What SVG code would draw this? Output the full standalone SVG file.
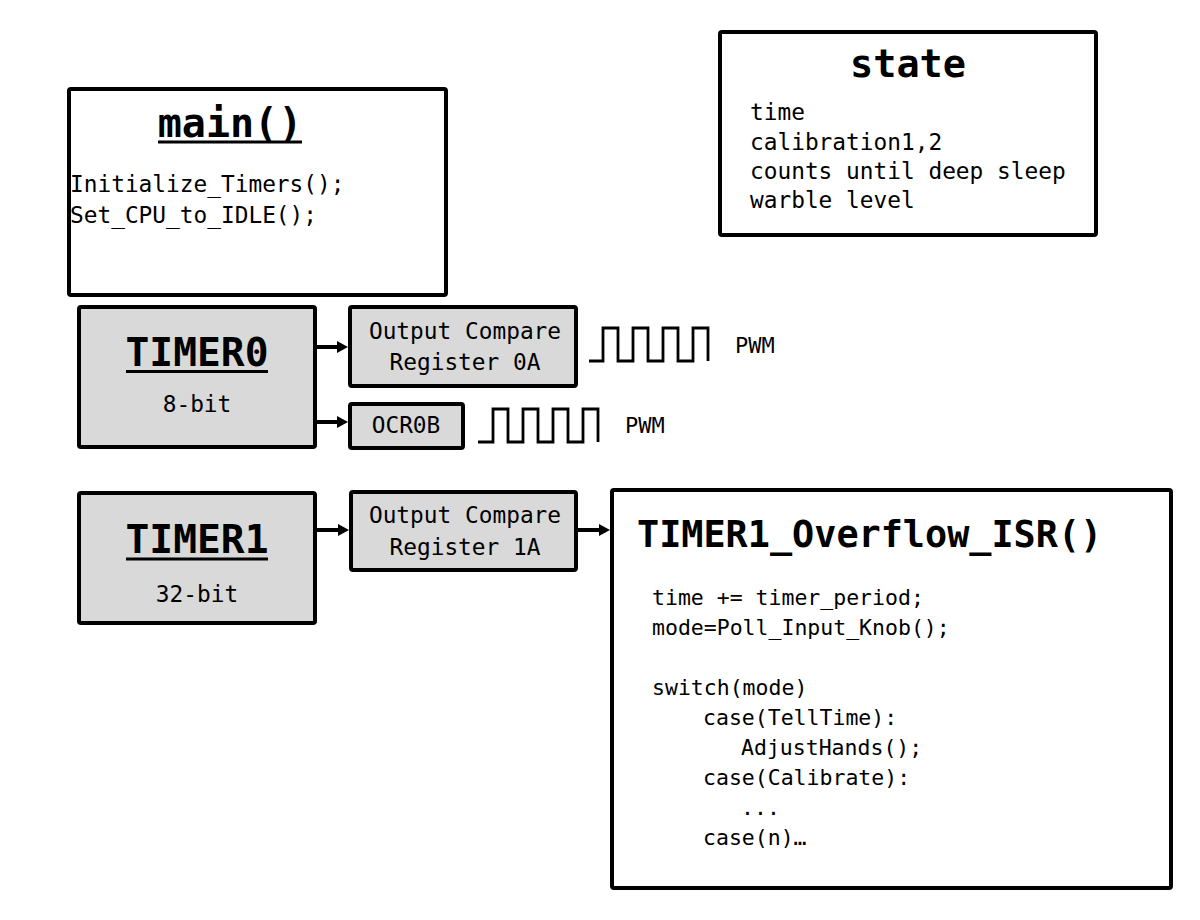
<svg xmlns="http://www.w3.org/2000/svg" width="1200" height="920" viewBox="0 0 1200 920">
<defs>
<style>
.box{fill:#ffffff;stroke:#000;stroke-width:4;stroke-linejoin:round}
.gbox{fill:#d9d9d9;stroke:#000;stroke-width:4;stroke-linejoin:round}
text{font-family:"DejaVu Sans Mono","Liberation Mono",monospace;fill:#000}
.title{font-weight:bold}
.uline{stroke:#000;stroke-width:3}
.code{font-size:22.8px}
.isr{font-size:21.5px}
.mid{text-anchor:middle}
.conn{stroke:#000;stroke-width:4;fill:none}
.wave{stroke:#000;stroke-width:2.8;fill:none;stroke-linejoin:miter}
</style>
<marker id="arrow" markerUnits="userSpaceOnUse" markerWidth="14" markerHeight="14" refX="3" refY="6" orient="auto">
<path d="M0,0 L11,6 L0,12 z" fill="#000"/>
</marker>
</defs>
<rect width="1200" height="920" fill="#ffffff"/>

<g id="main">
<rect class="box" x="69" y="89" width="377" height="206" rx="2"/>
<text class="title mid" x="230" y="137" font-size="40">main()</text>
<line class="uline" x1="158" y1="142" x2="302" y2="142"/>
<text class="code" x="70" y="192">Initialize_Timers();</text>
<text class="code" x="70" y="223">Set_CPU_to_IDLE();</text>
</g>

<g id="state">
<rect class="box" x="720" y="32" width="376" height="203" rx="2"/>
<text class="title mid" x="908" y="77" font-size="38.5">state</text>
<text class="code" x="750" y="120">time</text>
<text class="code" x="750" y="150">calibration1,2</text>
<text class="code" x="750" y="179">counts until deep sleep</text>
<text class="code" x="750" y="208">warble level</text>
</g>

<g id="timer0">
<rect class="gbox" x="79" y="307" width="236" height="140" rx="2"/>
<text class="title mid" x="197" y="366" font-size="39.6">TIMER0</text>
<line class="uline" x1="126" y1="371.5" x2="268" y2="371.5"/>
<text class="code mid" x="197" y="412">8-bit</text>
</g>

<g id="ocr0a">
<rect class="gbox" x="350" y="307" width="226" height="79" rx="2"/>
<text class="code mid" x="465" y="339">Output Compare</text>
<text class="code mid" x="465" y="370">Register 0A</text>
</g>

<g id="ocr0b">
<rect class="gbox" x="350" y="404" width="113" height="44" rx="2"/>
<text class="code mid" x="406" y="433">OCR0B</text>
</g>

<g id="pwm0a">
<path class="wave" d="M589,361 H603 V328 H618 V361 H633 V328 H648 V361 H663 V328 H678 V361 H693 V328 H708 V361"/>
<text x="735" y="353" font-size="22">PWM</text>
</g>

<g id="pwm0b">
<path class="wave" d="M478,442 H493 V409 H508 V442 H523 V409 H538 V442 H553 V409 H568 V442 H583 V409 H598 V442"/>
<text x="625" y="433" font-size="22">PWM</text>
</g>

<g id="timer1">
<rect class="gbox" x="79" y="493" width="236" height="130" rx="2"/>
<text class="title mid" x="197" y="553" font-size="39.6">TIMER1</text>
<line class="uline" x1="126" y1="559" x2="268" y2="559"/>
<text class="code mid" x="197" y="602">32-bit</text>
</g>

<g id="ocr1a">
<rect class="gbox" x="351" y="492" width="225" height="78" rx="2"/>
<text class="code mid" x="465" y="523">Output Compare</text>
<text class="code mid" x="465" y="555">Register 1A</text>
</g>

<g id="isr">
<rect class="box" x="612" y="490" width="559" height="398" rx="2"/>
<text class="title" x="637" y="547" font-size="36.8">TIMER1_Overflow_ISR()</text>
<text class="isr" x="652" y="605">time += timer_period;</text>
<text class="isr" x="652" y="635">mode=Poll_Input_Knob();</text>
<text class="isr" x="652" y="695">switch(mode)</text>
<text class="isr" x="703" y="725">case(TellTime):</text>
<text class="isr" x="741" y="755">AdjustHands();</text>
<text class="isr" x="703" y="785">case(Calibrate):</text>
<text class="isr" x="741" y="815">...</text>
<text class="isr" x="703" y="845">case(n)…</text>
</g>

<g id="connectors">
<line class="conn" x1="317" y1="347" x2="340" y2="347" marker-end="url(#arrow)"/>
<line class="conn" x1="317" y1="422" x2="340" y2="422" marker-end="url(#arrow)"/>
<line class="conn" x1="317" y1="530" x2="341" y2="530" marker-end="url(#arrow)"/>
<line class="conn" x1="578" y1="530" x2="602" y2="530" marker-end="url(#arrow)"/>
</g>
</svg>
